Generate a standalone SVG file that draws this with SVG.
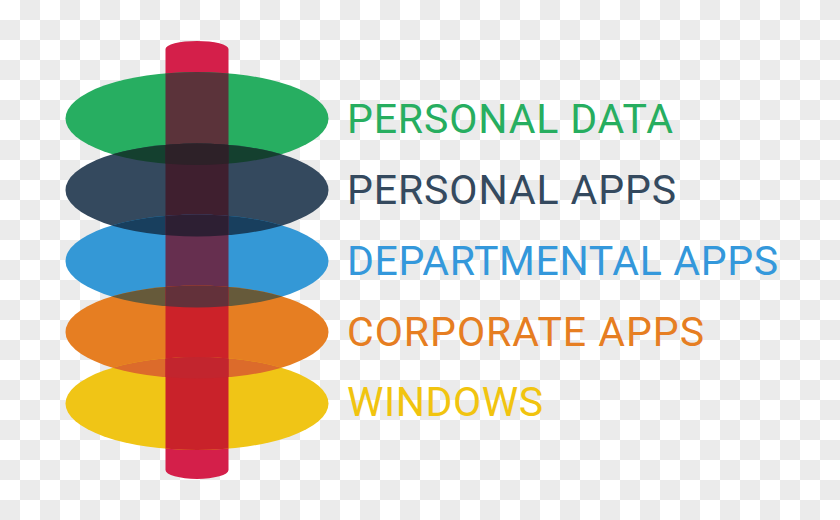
<svg xmlns="http://www.w3.org/2000/svg" width="840" height="520" viewBox="0 0 840 520">
  <defs>
    <pattern id="chk" width="40" height="40" patternUnits="userSpaceOnUse">
      <rect width="40" height="40" fill="#ffffff"/>
      <rect x="20" y="0" width="20" height="20" fill="#ebebeb"/>
      <rect x="0" y="20" width="20" height="20" fill="#ebebeb"/>
    </pattern>
    <clipPath id="cE1"><ellipse cx="197" cy="118.5" rx="131.5" ry="46.5"/></clipPath>
    <clipPath id="cE2"><ellipse cx="197" cy="190" rx="131.5" ry="46.5"/></clipPath>
    <clipPath id="cE3"><ellipse cx="197" cy="261" rx="131.5" ry="46.5"/></clipPath>
    <clipPath id="cE4"><ellipse cx="197" cy="332" rx="131.5" ry="46.5"/></clipPath>
    <clipPath id="cE5"><ellipse cx="197" cy="403.5" rx="131.5" ry="46.5"/></clipPath>
    <style>
      .lbl { font-family: Roboto, "Liberation Sans", sans-serif; font-size: 41px; font-weight: 400; }
    </style>
  </defs>

  <rect width="840" height="520" fill="url(#chk)"/>

  <g id="pole">
    <path d="M165.5,49 A31.5,8 0 0 1 228.5,49 L228.5,470 A31.5,9 0 0 1 165.5,470 Z" fill="#d41f4a"/>
  </g>

  <g id="layer-personal-data">
    <ellipse cx="197" cy="118.5" rx="131.5" ry="46.5" fill="#27ae61"/>
    <rect x="165.5" y="60" width="63" height="120" clip-path="url(#cE1)" fill="#5b333a"/>
    <text class="lbl" x="347" y="133" fill="#27ae60" textLength="326" lengthAdjust="spacing">PERSONAL DATA</text>
  </g>

  <g id="layer-personal-apps">
    <ellipse cx="197" cy="190" rx="131.5" ry="46.5" fill="#34495e"/>
    <ellipse cx="197" cy="190" rx="131.5" ry="46.5" clip-path="url(#cE1)" fill="#14402f"/>
    <rect x="165.5" y="130" width="63" height="120" clip-path="url(#cE2)" fill="#3f1f2f"/>
    <g clip-path="url(#cE1)">
      <rect x="165.5" y="130" width="63" height="120" clip-path="url(#cE2)" fill="#2d2128"/>
    </g>
    <text class="lbl" x="347" y="204" fill="#34495e" textLength="329" lengthAdjust="spacing">PERSONAL APPS</text>
  </g>

  <g id="layer-departmental-apps">
    <ellipse cx="197" cy="261" rx="131.5" ry="46.5" fill="#3498d6"/>
    <ellipse cx="197" cy="261" rx="131.5" ry="46.5" clip-path="url(#cE2)" fill="#183f5e"/>
    <rect x="165.5" y="200" width="63" height="120" clip-path="url(#cE3)" fill="#662f4f"/>
    <g clip-path="url(#cE2)">
      <rect x="165.5" y="200" width="63" height="120" clip-path="url(#cE3)" fill="#2d1f33"/>
    </g>
    <text class="lbl" x="347" y="275" fill="#3498db" textLength="431" lengthAdjust="spacing">DEPARTMENTAL APPS</text>
  </g>

  <g id="layer-corporate-apps">
    <ellipse cx="197" cy="332" rx="131.5" ry="46.5" fill="#e67e22"/>
    <ellipse cx="197" cy="332" rx="131.5" ry="46.5" clip-path="url(#cE3)" fill="#665a3a"/>
    <rect x="165.5" y="270" width="63" height="120" clip-path="url(#cE4)" fill="#cc2229"/>
    <g clip-path="url(#cE3)">
      <rect x="165.5" y="270" width="63" height="120" clip-path="url(#cE4)" fill="#63313a"/>
    </g>
    <text class="lbl" x="347" y="346" fill="#e67e22" textLength="357" lengthAdjust="spacing">CORPORATE APPS</text>
  </g>

  <g id="layer-windows">
    <ellipse cx="197" cy="403.5" rx="131.5" ry="46.5" fill="#f0c516"/>
    <ellipse cx="197" cy="403.5" rx="131.5" ry="46.5" clip-path="url(#cE4)" fill="#dc6b2b"/>
    <rect x="165.5" y="340" width="63" height="120" clip-path="url(#cE5)" fill="#c9222a"/>
    <g clip-path="url(#cE4)">
      <rect x="165.5" y="340" width="63" height="120" clip-path="url(#cE5)" fill="#c2252e"/>
    </g>
    <text class="lbl" x="347" y="416" fill="#f1c40f" textLength="196" lengthAdjust="spacing">WINDOWS</text>
  </g>
</svg>
